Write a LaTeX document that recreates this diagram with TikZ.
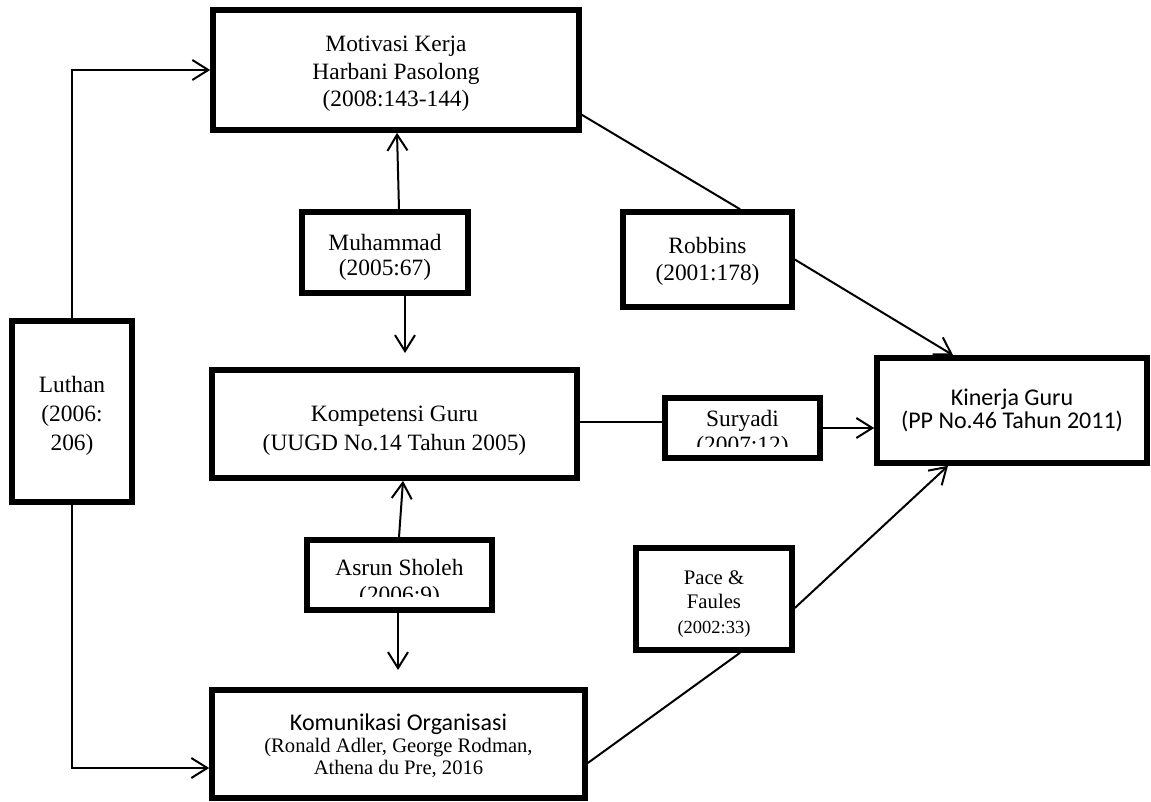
\documentclass[tikz,border=0pt]{standalone}
\usepackage{fontspec}
\setmainfont{Liberation Serif}
\newfontfamily\calibri{Carlito}
\usetikzlibrary{arrows.meta,fit,calc}
\begin{document}
\begin{tikzpicture}[x=0.5pt,y=-0.5pt,
  blank/.style={draw=black,line width=2.8pt,fill=white,inner sep=0pt},
  lbl/.style={inner sep=0pt,align=center,font=\fontsize{11.7}{13.8}\selectfont},
  conn/.style={line width=1pt},
  arr/.style={conn,-{Straight Barb[length=8pt,width=10pt,line width=1pt]}},
  txt/.style={inner sep=0pt,anchor=base,font=\fontsize{11.7}{13.8}\selectfont}]
\useasboundingbox (0,0) rectangle (1151,802);

% boxes
\node[blank,fit={(213,10) (579,130)}] (mot) {};
\node[blank,fit={(302,212) (468,293)}] (muh) {};
\node[blank,fit={(623,212) (792,307)}] (rob) {};
\node[blank,fit={(12,321) (132,502)}] (luth) {};
\node[blank,fit={(212,370) (577,478)}] (komp) {};
\node[blank,fit={(665,398) (820,458)}] (sur) {};
\node[blank,fit={(877,358) (1147,463)}] (kin) {};
\node[blank,fit={(307,540) (492,610)}] (asr) {};
\node[blank,fit={(636,548) (792,650)}] (pace) {};
\node[blank,fit={(212,690) (585,798)}] (kom) {};

% texts
\node[lbl] (motT) at ($(mot.center)+(0,4)$) {Motivasi Kerja\\Harbani Pasolong\\(2008:143-144)};
\node[lbl,font=\fontsize{11.7}{12.8}\selectfont] (muhT) at ($(muh.center)+(0,5)$) {Muhammad\\(2005:67)};
\node[lbl] (robT) at ($(rob.center)+(0,2)$) {Robbins\\(2001:178)};
\node[lbl,font=\fontsize{11.7}{14.5}\selectfont] (luthT) at ($(luth.center)+(0,4)$) {Luthan\\(2006:\\206)};
\node[lbl,font=\fontsize{11.7}{14.6}\selectfont] (kompT) at ($(komp.center)+(0,7)$) {Kompetensi Guru\\(UUGD No.14 Tahun 2005)};
\node[lbl,font=\calibri\fontsize{12}{11.3}\selectfont] (kinT) at ($(kin.center)+(0,0)$) {Kinerja Guru\\(PP No.46 Tahun 2011)};
\node[lbl,font=\fontsize{10.35}{12.4}\selectfont] (paceT) at ($(pace.center)+(0,5)$) {Pace \&\\Faules\\{\fontsize{9.25}{12}\selectfont(2002:33)}};
\node[lbl,font=\fontsize{10.3}{11}\selectfont] (komT) at ($(kom.center)+(0,2)$) {{\calibri\fontsize{12}{11}\selectfont Komunikasi Organisasi}\\(Ronald Adler, George Rodman,\\Athena du Pre, 2016};

% clipped texts
\begin{scope}
  \clip (665,398) rectangle (820,446);
  \node[txt] (surA) at (742.5,426) {Suryadi};
  \node[txt] (surB) at (742.5,452) {(2007:12)};
\end{scope}
\begin{scope}
  \clip (307,540) rectangle (492,596);
  \node[txt] (asrA) at (399.5,575) {Asrun Sholeh};
  \node[txt] (asrB) at (399.5,602) {(2006:9)};
\end{scope}

% helper coordinates
\coordinate (muhdown) at (405,353);
\coordinate (asrdown) at (398,670);
\coordinate (komin) at (212,768);
\coordinate (kompR) at ($(komp.east)+(0,-2)$);
\coordinate (motR) at ($(mot.south east)+(0,-18)$);
\coordinate (komR) at ($(kom.east)+(0,19)$);
\coordinate (paceR) at ($(pace.east)+(0,9)$);

% connectors
\draw[arr] (luth.north) -- (luth.north |- mot.west) -- (mot.west);
\draw[arr] (luth.south) -- (luth.south |- komin) -- (kom.west |- komin);
\draw[arr] ($(muh.north)+(14,0)$) -- ($(mot.south)+(1,0)$);
\draw[arr] (muh.south -| muhdown) -- (muhdown);
\draw[arr] ($(asr.north)+(-0.5,0)$) -- ($(komp.south)+(8.5,0)$);
\draw[arr] (asr.south -| asrdown) -- (asrdown);
\draw[conn] (motR) -- ($(rob.north)+(32.5,0)$);
\draw[arr] (rob.east) -- ($(kin.north)+(-59,0)$);
\draw[conn] (kompR) -- (kompR -| sur.west);
\draw[arr] (sur.east) -- (sur.east -| kin.west);
\draw[conn] (komR) -- ($(pace.south)+(26,0)$);
\draw[arr] (paceR) -- ($(kin.south)+(-64,0)$);
\end{tikzpicture}
\end{document}
